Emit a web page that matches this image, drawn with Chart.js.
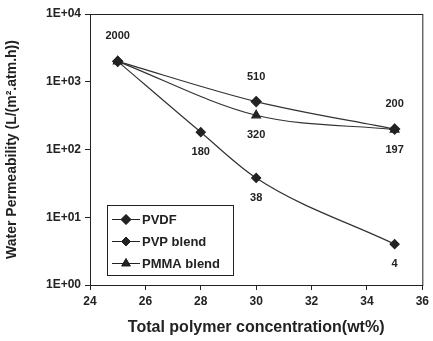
<!DOCTYPE html>
<html>
<head>
<meta charset="utf-8">
<script src="https://cdn.jsdelivr.net/npm/chart.js@4.4.0/dist/chart.umd.min.js"></script>
<style>
  html, body { margin: 0; padding: 0; background: #fff; }
  #wrap { width: 433px; height: 341px; }
</style>
</head>
<body>
<div id="wrap"><canvas id="permChart" width="433" height="341"></canvas></div>
<script>
// Water permeability vs. total polymer concentration
const concPVDF = [25, 30, 35];
const permPVDF = [2000, 510, 200];
const showPVDF = [true, true, true];

const concPVP = [25, 28, 30, 35];
const permPVP = [2000, 180, 38, 4];
const showPVP = [false, true, true, true];

const concPMMA = [25, 30, 35];
const permPMMA = [2000, 320, 197];
const showPMMA = [false, true, true];

const yTicks = [1, 10, 100, 1000, 10000];
const FONT = "'Liberation Sans', Arial, sans-serif";

function pts(xs, ys) {
  return xs.map((x, i) => ({ x: x, y: ys[i] }));
}

function sciLabel(v) {
  const e = Math.round(Math.log10(v));
  return "1E" + (e < 0 ? "-" : "+") + String(Math.abs(e)).padStart(2, "0");
}

// box around the plot + value labels + legend box in the lower left
const decorations = {
  id: "decorations",
  afterDatasetsDraw(chart) {
    const { ctx, chartArea: a } = chart;
    ctx.save();
    ctx.strokeStyle = "#222";
    ctx.lineWidth = 1;
    ctx.strokeRect(a.left + 0.5, a.top + 0.5, a.right - a.left, a.bottom - a.top);

    ctx.fillStyle = "#222";
    ctx.font = "bold 11px " + FONT;
    ctx.textAlign = "center";
    ctx.textBaseline = "middle";
    chart.data.datasets.forEach((ds, di) => {
      const meta = chart.getDatasetMeta(di);
      meta.data.forEach((p, i) => {
        if (!ds.showValue[i]) return;
        const dy = ds.valueAbove ? -25 : 20;
        ctx.fillText(String(ds.data[i].y), p.x, p.y + dy);
      });
    });

    // legend
    const lx = 107, ly = 205, lw = 126, lh = 70;
    ctx.fillStyle = "#fff";
    ctx.fillRect(lx, ly, lw, lh);
    ctx.strokeStyle = "#222";
    ctx.strokeRect(lx + 0.5, ly + 0.5, lw, lh);
    ctx.textAlign = "left";
    ctx.font = "bold 13px " + FONT;
    chart.data.datasets.forEach((ds, di) => {
      const cy = ly + 14 + di * 22;
      ctx.strokeStyle = "#222";
      ctx.beginPath();
      ctx.moveTo(lx + 5, cy + 0.5);
      ctx.lineTo(lx + 33, cy + 0.5);
      ctx.stroke();
      ctx.fillStyle = "#222";
      Chart.helpers.drawPoint(ctx, {
        pointStyle: ds.pointStyle, radius: ds.pointRadius, rotation: 0, borderWidth: 1
      }, lx + 19, cy + 0.5);
      ctx.fill();
      ctx.fillText(ds.label, lx + 35, cy + 1);
    });
    ctx.restore();
  }
};

new Chart(document.getElementById("permChart"), {
  type: "line",
  data: {
    datasets: [
      {
        label: "PVDF",
        data: pts(concPVDF, permPVDF),
        showValue: showPVDF,
        valueAbove: true,
        pointStyle: "rectRot",
        pointRadius: 5
      },
      {
        label: "PVP blend",
        data: pts(concPVP, permPVP),
        showValue: showPVP,
        valueAbove: false,
        pointStyle: "rectRot",
        pointRadius: 4.5
      },
      {
        label: "PMMA blend",
        data: pts(concPMMA, permPMMA),
        showValue: showPMMA,
        valueAbove: false,
        pointStyle: "triangle",
        pointRadius: 5
      }
    ].map(d => Object.assign({
      borderColor: "#333",
      backgroundColor: "#222",
      pointBackgroundColor: "#222",
      pointBorderColor: "#222",
      borderWidth: 1.2,
      cubicInterpolationMode: "monotone",
      fill: false
    }, d))
  },
  options: {
    responsive: false,
    animation: false,
    layout: { padding: { top: 14, right: 5, left: 0, bottom: 0 } },
    plugins: { legend: { display: false }, tooltip: { enabled: false } },
    scales: {
      x: {
        type: "linear",
        min: 24, max: 36,
        ticks: { stepSize: 2, color: "#222", font: { family: FONT, size: 12, weight: "bold" }, padding: 4 },
        grid: { drawOnChartArea: false, color: "#222", tickLength: 5 },
        border: { color: "#222" },
        title: {
          display: true,
          text: "Total polymer concentration(wt%)",
          color: "#222",
          font: { family: FONT, size: 16, weight: "bold" },
          padding: { top: 6 }
        },
        afterFit(s) { s.height = 56; }
      },
      y: {
        type: "logarithmic",
        min: 1, max: 10000,
        afterBuildTicks(s) { s.ticks = yTicks.map(v => ({ value: v })); },
        ticks: {
          callback: v => sciLabel(v),
          color: "#222",
          font: { family: FONT, size: 12, weight: "bold" },
          padding: 4
        },
        grid: { drawOnChartArea: false, color: "#222", tickLength: 5 },
        border: { color: "#222" },
        title: {
          display: true,
          text: "Water Permeability (L/(m².atm.h))",
          color: "#222",
          font: { family: FONT, size: 14, weight: "bold" },
          padding: { bottom: 2 }
        },
        afterFit(s) { s.width = 90; }
      }
    }
  },
  plugins: [decorations]
});
</script>
</body>
</html>
